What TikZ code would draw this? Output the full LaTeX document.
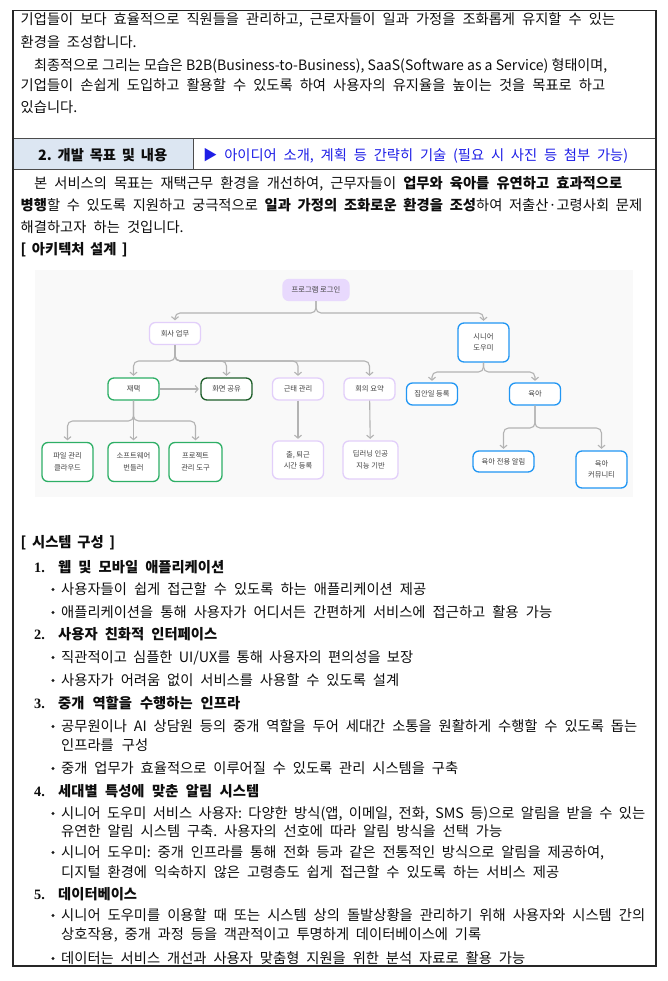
\documentclass[tikz,border=0pt]{standalone}
\usepackage{fontspec}
\usepackage{graphicx}
\setmainfont{Noto Sans CJK KR}
\newfontfamily\numfont{Liberation Serif}
\usetikzlibrary{arrows.meta, positioning, calc}
\frenchspacing

\definecolor{lav}{HTML}{E2CFFA}
\definecolor{lavfill}{HTML}{E8D9FD}
\definecolor{skyb}{HTML}{2196F3}
\definecolor{leaf}{HTML}{2EAF66}
\definecolor{pine}{HTML}{1E5E2A}
\definecolor{wire}{HTML}{B3B3B3}
\definecolor{headfill}{HTML}{DCE6F2}
\definecolor{headblue}{HTML}{1E1EE6}
\definecolor{panel}{HTML}{F9F9F9}

% stretch (or squeeze) one line of text to a given width
\newsavebox\fitbox
\newlength\fitw
\newcommand\fitto[2]{%
  \pgfmathsetlength\fitw{#1}%
  \sbox\fitbox{#2}%
  \ifdim\wd\fitbox<\fitw\makebox[\fitw][s]{#2}%
  \else\resizebox{\fitw}{\height}{\usebox\fitbox}\fi}

\tikzset{
  txt/.style={anchor=base west, inner sep=0pt, yshift=-5.1pt, text=black!95,
    font=\fontsize{14.3}{17}\selectfont},
  box/.style={draw, rounded corners=6pt, line width=1.3pt, fill=white, align=center,
    font=\fontsize{7.3}{11.5}\selectfont, text=black!75, inner sep=1pt,
    minimum height=22pt, minimum width=51pt},
  tall/.style={box, minimum height=38pt},
  dotm/.style={circle, fill=black!90, inner sep=0pt, minimum size=3.4pt},
  conn/.style={draw=wire, line width=1.1pt, rounded corners=5pt, shorten >=1.5pt,
    -{Straight Barb[length=3pt,width=7pt]}}
}

\begin{document}
\begin{tikzpicture}[x=1pt, y=-1pt]
	\useasboundingbox (0,0) rectangle (668,981);
	% frame and header row
	\fill[headfill] (13,139) rectangle (193,170);
	\draw[line width=1pt, black!70] (13,139) -- (656,139) (13,170) -- (656,170) (193,139) -- (193,170);
	\draw[line width=1.3pt, black!85] (13,10.5) rectangle (656,966);

	\node[txt] (p1) at (20.5,19) {\fitto{594.5}{기업들이 보다 효율적으로 직원들을 관리하고, 근로자들이 일과 가정을 조화롭게 유지할 수 있는}};
	\node[txt] (p2) at (20.5,42) {\fitto{116}{환경을 조성합니다.}};
	\node[txt] (p3) at (34,65) {\fitto{573}{최종적으로 그리는 모습은 B2B(Business-to-Business), SaaS(Software as a Service) 형태이며,}};
	\node[txt] (p4) at (20.5,85) {\fitto{584.5}{기업들이 손쉽게 도입하고 활용할 수 있도록 하여 사용자의 유지율을 높이는 것을 목표로 하고}};
	\node[txt] (p5) at (20.5,107) {있습니다.};

	\node[txt] (head) at (38,155) {\fitto{129}{\bfseries 2. 개발 목표 및 내용}};
	\node[txt, text=headblue] (hint) at (203,155) {\fitto{425}{▶ 아이디어 소개, 계획 등 간략히 기술 (필요 시 사진 등 첨부 가능)}};

	\node[txt] (q1) at (34,183) {\fitto{588}{본 서비스의 목표는 재택근무 환경을 개선하여, 근무자들이 \textbf{업무와 육아를 유연하고 효과적으로}}};
	\node[txt] (q2) at (20.5,205) {\fitto{621.5}{\textbf{병행}할 수 있도록 지원하고 궁극적으로 \textbf{일과 가정의 조화로운 환경을 조성}하여 저출산·고령사회 문제}};
	\node[txt] (q3) at (20.5,227) {\fitto{163}{해결하고자 하는 것입니다.}};
	\node[txt] (arch) at (20.5,249) {\fitto{107}{\bfseries [ 아키텍처 설계 ]}};

	% architecture diagram
	\fill[panel] (35,270) rectangle (633,497);
	\node[box, fill=lavfill, draw=lavfill, minimum width=66pt, minimum height=21pt] (login) at (316,290) {프로그램 로그인};
	\node[box, draw=lav] (work) at (175,333.5) {회사 업무};
	\node[box, draw=skyb, minimum height=39pt] (senior) at (483.5,342.5) {시니어\\도우미};
	\node[box, draw=leaf] (home) at (133.5,389) {재택};
	\node[box, draw=pine] (screen) at (226.5,389) {화면 공유};
	\node[box, draw=lav] (attend) at (298,389) {근태 관리};
	\node[box, draw=lav] (meet) at (369.5,389) {회의 요약};
	\node[box, draw=skyb] (chore) at (432,394) {집안일 등록};
	\node[box, draw=skyb] (child) at (535,394) {육아};
	\node[tall, draw=leaf, minimum height=39pt] (file) at (67.5,462) {파일 관리\\클라우드};
	\node[tall, draw=leaf, minimum height=39pt] (soft) at (133.5,462) {소프트웨어\\번들러};
	\node[tall, draw=leaf, minimum height=39pt, minimum width=53pt] (proj) at (195.5,462) {프로젝트\\관리 도구};
	\node[tall, draw=lav] (clock) at (298,460) {출, 퇴근\\시간 등록};
	\node[tall, draw=lav, minimum width=55pt] (ai) at (370.5,460) {딥러닝 인공\\지능 기반};
	\node[box, draw=skyb, minimum width=61pt, minimum height=21pt] (alarm) at (503.5,461.5) {육아 전용 알림};
	\node[tall, draw=skyb, minimum height=37pt] (comm) at (601.5,469.5) {육아\\커뮤니티};

	\foreach \c in {work,senior} \draw[conn] (login.south) |- (\c.north |- 0,313) -- (\c.north);
	\foreach \c in {home,screen,attend,meet} \draw[conn] (work.south) |- (\c.north |- 0,361) -- (\c.north);
	\foreach \c in {chore,child} \draw[conn] (senior.south) |- (\c.north |- 0,372) -- (\c.north);
	\foreach \c in {file,proj} \draw[conn] (home.south) |- (\c.north |- 0,421) -- (\c.north);
	\foreach \c in {alarm,comm} \draw[conn] (child.south) |- (\c.north |- 0,428) -- (\c.north);
	\draw[conn] (home) -- (soft);
	\draw[conn] (home) -- (screen);
	\draw[conn] (attend) -- (clock);
	\draw[conn] (meet) -- (ai);

	% system list
	\node[txt] (sys) at (20.5,542) {\fitto{94.5}{\bfseries [ 시스템 구성 ]}};
	\foreach \n/\yy/\xe/\tx in {1/567/224/{웹 및 모바일 애플리케이션}, 2/634/217/{사용자 친화적 인터페이스},
			3/703/240/{중개 역할을 수행하는 인프라}, 4/791/259/{세대별 특성에 맞춘 알림 시스템}, 5/894/139/{데이터베이스}} {
		\node[txt] (num\n) at (34,\yy) {\numfont\bfseries \n.};
		\node[txt] (sec\n) at (58,\yy) {\fitto{\xe-58}{\bfseries \tx}};
	}
	\foreach \yy [count=\i] in {589,612,657,680,726,768,813,852,915,958}
		\node[dotm] (dot\i) at (53,\yy+0.5) {};
	\foreach \yy/\xe/\tx [count=\i] in {
			589/426/{사용자들이 쉽게 접근할 수 있도록 하는 애플리케이션 제공},
			612/552/{애플리케이션을 통해 사용자가 어디서든 간편하게 서비스에 접근하고 활용 가능},
			657/413/{직관적이고 심플한 UI/UX를 통해 사용자의 편의성을 보장},
			680/399/{사용자가 어려움 없이 서비스를 사용할 수 있도록 설계},
			726/637/{공무원이나 AI 상담원 등의 중개 역할을 두어 세대간 소통을 원활하게 수행할 수 있도록 돕는},
			745/148/{인프라를 구성},
			768/458/{중개 업무가 효율적으로 이루어질 수 있도록 관리 시스템을 구축},
			813/645/{시니어 도우미 서비스 사용자: 다양한 방식(앱, 이메일, 전화, SMS 등)으로 알림을 받을 수 있는},
			831/502/{유연한 알림 시스템 구축. 사용자의 선호에 따라 알림 방식을 선택 가능},
			852/604/{시니어 도우미: 중개 인프라를 통해 전화 등과 같은 전통적인 방식으로 알림을 제공하여,},
			872/559/{디지털 환경에 익숙하지 않은 고령층도 쉽게 접근할 수 있도록 하는 서비스 제공},
			915/645/{시니어 도우미를 이용할 때 또는 시스템 상의 돌발상황을 관리하기 위해 사용자와 시스템 간의},
			934/481/{상호작용, 중개 과정 등을 객관적이고 투명하게 데이터베이스에 기록},
			958/525/{데이터는 서비스 개선과 사용자 맞춤형 지원을 위한 분석 자료로 활용 가능}}
		\node[txt] (line\i) at (61,\yy) {\fitto{\xe-61}{\tx}};
\end{tikzpicture}
\end{document}
